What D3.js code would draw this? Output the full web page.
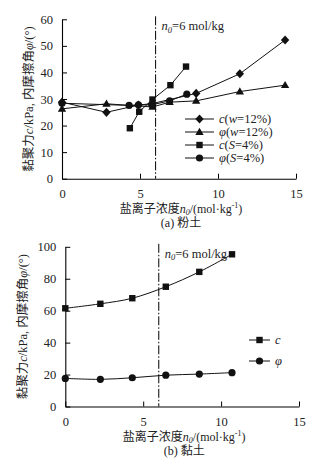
<!DOCTYPE html>
<html>
<head>
<meta charset="utf-8">
<script src="https://cdn.jsdelivr.net/npm/d3@7"></script>
<style>
  body { margin: 0; background: #fff; }
  svg { display: block; }
  text { font-family: "Liberation Serif", "Noto Sans CJK SC", serif; fill: #222; }
</style>
</head>
<body>
<svg width="333" height="466"></svg>
<script>
// (a) silt
var siltCwX = [0, 2.85, 4.9, 5.8, 8.6, 11.4, 14.3];
var siltCwY = [28.8, 25.0, 27.7, 28.3, 32.1, 39.5, 52.2];
var siltPhiwX = [0, 2.85, 5.8, 6.9, 8.6, 11.4, 14.3];
var siltPhiwY = [26.3, 28.2, 27.0, 28.8, 29.3, 32.8, 35.2];
var siltCsX = [4.35, 4.95, 5.8, 6.95, 7.95];
var siltCsY = [19.0, 25.2, 29.8, 35.2, 42.2];
var siltPhisX = [0, 4.3, 4.9, 5.75, 6.9, 8.0];
var siltPhisY = [28.4, 27.6, 27.8, 27.8, 29.3, 31.8];
var siltLegend = ["c(w=12%)", "φ(w=12%)", "c(S=4%)", "φ(S=4%)"];
var siltYTicks = [0, 10, 20, 30, 40, 50, 60];

// (b) clay
var clayX = [0, 2.25, 4.3, 6.45, 8.6, 10.7];
var clayC = [61.5, 64.3, 67.8, 75.0, 84.3, 95.3];
var clayPhi = [17.6, 17.0, 18.0, 19.6, 20.3, 21.2];
var clayLegend = ["c", "φ"];
var clayYTicks = [0, 20, 40, 60, 80, 100];

var xTicks = [0, 5, 10, 15];
var n0 = 6;

var svg = d3.select("svg");

function zip(xs, ys) { return xs.map(function(x, i) { return [x, ys[i]]; }); }

function marker(g, type, x, y) {
  if (type === "diamond") {
    g.append("path").attr("d", "M0,-4.6L4.2,0L0,4.6L-4.2,0Z").attr("transform", "translate(" + x + "," + y + ")").attr("fill", "#111");
  } else if (type === "triangle") {
    g.append("path").attr("d", d3.symbol(d3.symbolTriangle, 30)()).attr("transform", "translate(" + x + "," + (y + 0.5) + ")").attr("fill", "#111");
  } else if (type === "square") {
    g.append("rect").attr("x", x - 3.2).attr("y", y - 3.2).attr("width", 6.4).attr("height", 6.4).attr("fill", "#111");
  } else {
    g.append("circle").attr("cx", x).attr("cy", y).attr("r", 3.6).attr("fill", "#111");
  }
}

// legend label, italic c/φ and w/S
function richLabel(t, s) {
  var parts = s.match(/^(c|φ)(?:\((w|S)(=.*)\))?$/);
  t.append("tspan").attr("font-style", "italic").text(parts[1]);
  if (parts[2]) {
    t.append("tspan").text("(");
    t.append("tspan").attr("font-style", "italic").text(parts[2]);
    t.append("tspan").text(parts[3] + ")");
  }
}

function drawPanel(o) {
  var x = d3.scaleLinear().domain([0, 15]).range(o.xr);
  var y = d3.scaleLinear().domain([0, o.ymax]).range(o.yr);
  var g = svg.append("g");

  // axes
  g.append("g")
      .attr("transform", "translate(0," + o.yr[0] + ")")
      .call(d3.axisBottom(x).tickValues(xTicks).tickSizeInner(-5).tickSizeOuter(0).tickPadding(8))
      .call(function(a) {
        a.select(".domain").attr("stroke", "#000").attr("stroke-width", 1.1);
        a.selectAll(".tick line").attr("stroke", "#000");
        a.selectAll("text").attr("font-size", 12.5).attr("font-family", "Liberation Serif").attr("fill", "#222").attr("dy", "0.9em");
      });
  g.append("g")
      .attr("transform", "translate(" + o.xr[0] + ",0)")
      .call(d3.axisLeft(y).tickValues(o.yTicks).tickSizeInner(-5).tickSizeOuter(0).tickPadding(9))
      .call(function(a) {
        a.select(".domain").attr("stroke", "#000").attr("stroke-width", 1.1);
        a.selectAll(".tick line").attr("stroke", "#000");
        a.selectAll("text").attr("font-size", 12.5).attr("font-family", "Liberation Serif").attr("fill", "#222");
      });

  // n0 line
  g.append("line")
      .attr("x1", x(n0)).attr("x2", x(n0))
      .attr("y1", y(o.ymax) - 3).attr("y2", o.yr[0])
      .attr("stroke", "#000").attr("stroke-width", 1)
      .attr("stroke-dasharray", "9,2,1.5,2");
  var ann = g.append("text").attr("x", x(n0) + 6).attr("y", y(o.ymax) + 11).attr("font-size", 12.5);
  ann.append("tspan").attr("font-style", "italic").text("n");
  ann.append("tspan").attr("font-style", "italic").attr("font-size", 8.5).attr("dy", 2.5).text("0");
  ann.append("tspan").attr("dy", -2.5).text("=6 mol/kg");

  // series
  o.series.forEach(function(s) {
    var pts = zip(s.x, s.y);
    g.append("path")
        .datum(pts)
        .attr("fill", "none")
        .attr("stroke", "#111")
        .attr("stroke-width", 1)
        .attr("d", d3.line().x(function(d) { return x(d[0]); }).y(function(d) { return y(d[1]); }).curve(o.curve));
    pts.forEach(function(d) { marker(g, s.type, x(d[0]), y(d[1])); });
  });

  // legend
  o.series.forEach(function(s, i) {
    var ly = o.leg.y + i * o.leg.dy;
    g.append("line").attr("x1", o.leg.x0).attr("x2", o.leg.x1).attr("y1", ly).attr("y2", ly).attr("stroke", "#111");
    marker(g, s.type, (o.leg.x0 + o.leg.x1) / 2, ly);
    var t = g.append("text").attr("x", o.leg.x1 + 5).attr("y", ly + 4).attr("font-size", 12.5);
    richLabel(t, s.name);
  });

  // y label
  var yl = g.append("text")
      .attr("transform", "translate(" + o.ylx + "," + ((o.yr[0] + o.yr[1]) / 2) + ") rotate(-90)")
      .attr("text-anchor", "middle").attr("font-size", 12.5).attr("fill", "#333");
  yl.append("tspan").text("黏聚力");
  yl.append("tspan").attr("font-style", "italic").text("c");
  yl.append("tspan").text("/kPa, 内摩擦角");
  yl.append("tspan").attr("font-style", "italic").text("φ");
  yl.append("tspan").text("/(°)");

  // x label
  var xl = g.append("text")
      .attr("x", (o.xr[0] + o.xr[1]) / 2 + 2).attr("y", o.yr[0] + 34)
      .attr("text-anchor", "middle").attr("font-size", 12).attr("fill", "#333");
  xl.append("tspan").text("盐离子浓度");
  xl.append("tspan").attr("font-style", "italic").text("n");
  xl.append("tspan").attr("font-style", "italic").attr("font-size", 8).attr("dy", 2.5).text("0");
  xl.append("tspan").attr("dy", -2.5).text("/(mol·kg");
  xl.append("tspan").attr("font-size", 8).attr("dy", -4.5).text("-1");
  xl.append("tspan").attr("dy", 4.5).text(")");

  g.append("text")
      .attr("x", (o.xr[0] + o.xr[1]) / 2 + 2).attr("y", o.yr[0] + 48)
      .attr("text-anchor", "middle").attr("font-size", 12).attr("fill", "#333")
      .text(o.caption);
}

drawPanel({
  xr: [62, 296], yr: [178.7, 19.3], ymax: 60, yTicks: siltYTicks,
  curve: d3.curveLinear, ylx: 33, caption: "(a) 粉土",
  leg: { x0: 185, x1: 214, y: 119, dy: 13 },
  series: [
    { name: siltLegend[0], type: "diamond", x: siltCwX, y: siltCwY },
    { name: siltLegend[1], type: "triangle", x: siltPhiwX, y: siltPhiwY },
    { name: siltLegend[2], type: "square", x: siltCsX, y: siltCsY },
    { name: siltLegend[3], type: "circle", x: siltPhisX, y: siltPhisY }
  ]
});

drawPanel({
  xr: [65.3, 299], yr: [406.5, 246.8], ymax: 100, yTicks: clayYTicks,
  curve: d3.curveCatmullRom, ylx: 27, caption: "(b) 黏土",
  leg: { x0: 249, x1: 270, y: 340, dy: 21 },
  series: [
    { name: clayLegend[0], type: "square", x: clayX, y: clayC },
    { name: clayLegend[1], type: "circle", x: clayX, y: clayPhi }
  ]
});
</script>
</body>
</html>
